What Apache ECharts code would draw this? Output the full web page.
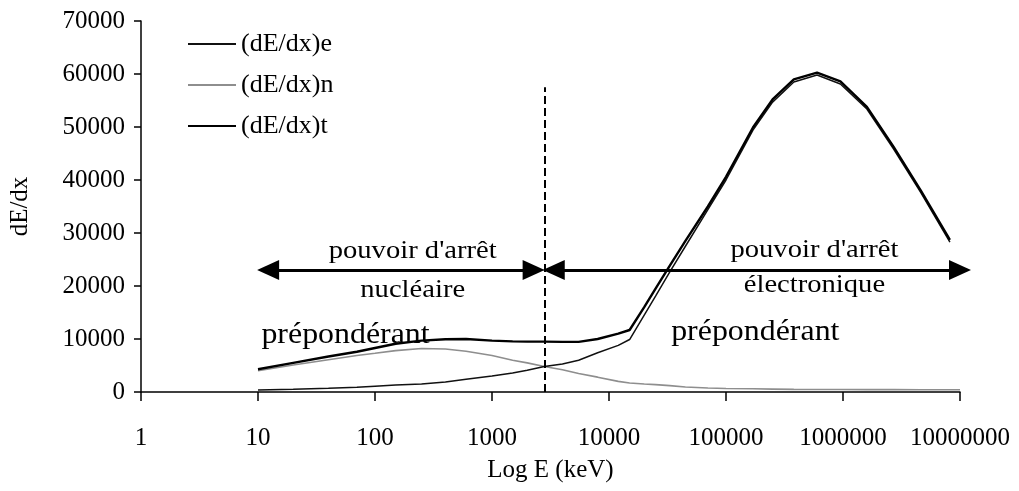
<!DOCTYPE html>
<html>
<head>
<meta charset="utf-8">
<script src="https://cdn.jsdelivr.net/npm/echarts@6/dist/echarts.min.js"></script>
<style>
  html, body { margin: 0; padding: 0; background: #fff; }
  #chart { width: 1019px; height: 491px; }
</style>
</head>
<body>
<div id="chart"></div>
<script>
// Energy grid (keV) and stopping power values
const energy = [10, 20, 40, 70, 100, 150, 250, 400, 600, 1000, 1500, 2000, 2800, 4000, 5500, 8000, 12000, 15000, 20000, 25000, 33000, 45000, 70000, 100000, 170000, 250000, 380000, 600000, 950000, 1600000, 2700000, 4600000, 8200000, 10000000];
const dEdxElectronic = [400, 500, 700, 900, 1100, 1300, 1500, 1900, 2400, 3000, 3600, 4100, 4800, 5300, 6000, 7400, 8800, 9900, 14500, 18100, 22600, 27500, 34400, 40000, 49400, 54700, 58500, 59800, 58100, 53400, 45900, 37700, 28300, null];
const dEdxNuclear = [4000, 5100, 6100, 6900, 7300, 7800, 8200, 8100, 7700, 6900, 6000, 5500, 4800, 4200, 3500, 2800, 2000, 1700, 1500, 1400, 1200, 950, 750, 650, 600, 550, 500, 480, 460, 450, 440, 430, 420, 420];
const dEdxTotal = [4300, 5500, 6700, 7600, 8300, 9100, 9700, 9950, 10000, 9700, 9550, 9500, 9500, 9450, 9450, 10000, 11000, 11700, 16000, 19500, 23800, 28500, 35000, 40600, 49900, 55200, 59000, 60250, 58600, 53800, 46300, 38100, 28700, null];

const seriesNames = ['(dE/dx)e', '(dE/dx)n', '(dE/dx)t'];
const xTickValues = [1, 10, 100, 1000, 10000, 100000, 1000000, 10000000];
const yTickValues = [0, 10000, 20000, 30000, 40000, 50000, 60000, 70000];

// Boundary between the two regimes and the arrow level
const boundaryEnergy = 2800;
const boundaryTop = 57500;
const arrowLevel = 23000;

const FONT = "'Liberation Serif', 'Times New Roman', serif";

function pairs(values) {
  const out = [];
  energy.forEach((E, i) => { if (values[i] !== null) out.push([E, values[i]]); });
  return out;
}

const chart = echarts.init(document.getElementById('chart'), null, { renderer: 'canvas' });

const option = {
  animation: false,
  backgroundColor: '#ffffff',
  grid: { left: 140, right: 59, top: 21, bottom: 99 },
  legend: {
    data: seriesNames,
    orient: 'vertical',
    left: 182,
    top: 24,
    itemWidth: 48,
    itemHeight: 14,
    itemGap: 11,
    itemStyle: { opacity: 0 },
    textStyle: { fontFamily: FONT, fontSize: 26, color: '#000', lineHeight: 30 }
  },
  xAxis: {
    type: 'log',
    logBase: 10,
    min: xTickValues[0],
    max: xTickValues[xTickValues.length - 1],
    name: 'Log E (keV)',
    nameLocation: 'middle',
    nameGap: 66,
    nameTextStyle: { fontFamily: FONT, fontSize: 25, color: '#000' },
    axisLine: { show: true, lineStyle: { color: '#000', width: 1.5 } },
    axisTick: { show: true, inside: false, length: 9, lineStyle: { color: '#000', width: 1.5 } },
    minorTick: { show: false },
    splitLine: { show: false },
    axisLabel: {
      margin: 34,
      fontFamily: FONT, fontSize: 25, color: '#000',
      formatter: v => String(Math.round(v))
    }
  },
  yAxis: {
    type: 'value',
    min: yTickValues[0],
    max: yTickValues[yTickValues.length - 1],
    interval: yTickValues[1] - yTickValues[0],
    name: 'dE/dx',
    nameLocation: 'middle',
    nameGap: 108,
    nameTextStyle: { fontFamily: FONT, fontSize: 25, color: '#000' },
    axisLine: { show: true, lineStyle: { color: '#000', width: 1.5 } },
    axisTick: { show: true, inside: false, length: 7, lineStyle: { color: '#000', width: 1.5 } },
    splitLine: { show: false },
    axisLabel: {
      margin: 16,
      fontFamily: FONT, fontSize: 25, color: '#000',
      formatter: v => String(v)
    }
  },
  series: [
    {
      name: seriesNames[0], type: 'line', symbol: 'none',
      data: pairs(dEdxElectronic),
      lineStyle: { color: '#111', width: 1.5 },
      itemStyle: { color: '#111' },
      z: 3
    },
    {
      name: seriesNames[1], type: 'line', symbol: 'none',
      data: pairs(dEdxNuclear),
      lineStyle: { color: '#8e8e8e', width: 1.6 },
      itemStyle: { color: '#8e8e8e' },
      z: 2
    },
    {
      name: seriesNames[2], type: 'line', symbol: 'none',
      data: pairs(dEdxTotal),
      lineStyle: { color: '#000', width: 2.4 },
      itemStyle: { color: '#000' },
      z: 4,
      markLine: {
        silent: true,
        animation: false,
        label: { show: false },
        emphasis: { disabled: true },
        data: [
          [
            { coord: [boundaryEnergy, 0], symbol: 'none', lineStyle: { color: '#000', width: 2, type: [8, 4] } },
            { coord: [boundaryEnergy, boundaryTop], symbol: 'none' }
          ],
          [
            { coord: [12.2, arrowLevel], symbol: 'triangle', symbolSize: [20, 22], lineStyle: { color: '#000', width: 3, type: 'solid' } },
            { coord: [2270, arrowLevel], symbol: 'triangle', symbolSize: [20, 22] }
          ],
          [
            { coord: [3370, arrowLevel], symbol: 'triangle', symbolSize: [20, 22], lineStyle: { color: '#000', width: 3, type: 'solid' } },
            { coord: [10000000, arrowLevel], symbol: 'triangle', symbolSize: [20, 22] }
          ]
        ]
      }
    }
  ]
};

chart.setOption(option);

// Text notes describing the two regimes, anchored in data coordinates
const notes = [
  { text: "pouvoir d'arrêt", E: 210, v: 26600, size: 26 },
  { text: 'nucléaire', E: 210, v: 19200, size: 26 },
  { text: 'prépondérant', E: 56, v: 10750, size: 29 },
  { text: "pouvoir d'arrêt", E: 570000, v: 26700, size: 26 },
  { text: 'électronique', E: 570000, v: 20200, size: 26 },
  { text: 'prépondérant', E: 178000, v: 11300, size: 29 }
];

const graphics = notes.map(n => {
  const p = chart.convertToPixel({ xAxisIndex: 0, yAxisIndex: 0 }, [n.E, n.v]);
  return {
    type: 'text',
    x: p[0], y: p[1],
    scaleX: 1.1,
    z: 10,
    style: {
      text: n.text,
      fontFamily: FONT,
      fontSize: n.size,
      fill: '#000',
      align: 'center',
      verticalAlign: 'middle'
    }
  };
});

chart.setOption({ graphic: graphics });
</script>
</body>
</html>
